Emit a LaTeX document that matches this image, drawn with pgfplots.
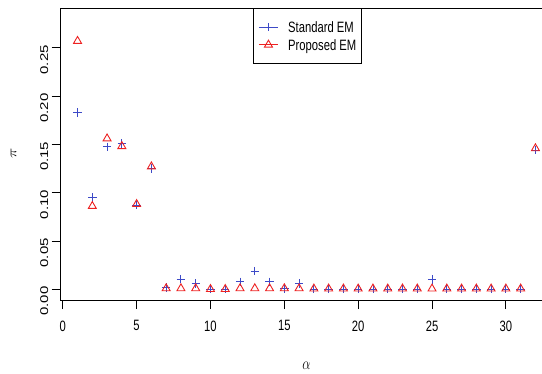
\documentclass[border=0pt]{standalone}
\usepackage{fontspec}
\setmainfont{Liberation Sans}
\usepackage{graphicx}
\usepackage{pgfplots}
\pgfplotsset{compat=1.18}
\usepackage{pgfplotstable}
\definecolor{emblue}{rgb}{0.24,0.29,0.78}
\definecolor{emred}{rgb}{0.93,0.13,0.13}
\newcommand\sqh[1]{\scalebox{0.75}[1]{#1}}
\newcommand\sqv[1]{\scalebox{1}[0.75]{#1}}
\newcommand\bigf{\fontsize{15}{17}\selectfont}
\pgfplotstableread{
x std prop
1 0.183 0.257
2 0.095 0.086
3 0.1475 0.156
4 0.151 0.148
5 0.087 0.088
6 0.125 0.127
7 0.0018 0.0008
8 0.0104 0.0008
9 0.0059 0.0008
10 0.0000 0.0000
11 0.0000 0.0000
12 0.0076 0.0008
13 0.0187 0.0008
14 0.0076 0.0008
15 0.0005 0.0008
16 0.0060 0.0008
17 0.0000 0.0005
18 0.0000 0.0005
19 0.0000 0.0005
20 0.0000 0.0005
21 0.0000 0.0005
22 0.0000 0.0005
23 0.0000 0.0005
24 0.0000 0.0005
25 0.0100 0.0005
26 0.0000 0.0005
27 0.0000 0.0005
28 0.0000 0.0005
29 0.0000 0.0005
30 0.0000 0.0005
31 0.0000 0.0005
32 0.144 0.1458
}\emdata
\begin{document}
\begin{tikzpicture}
\useasboundingbox (-60.7pt,-73pt) rectangle (481.3pt,300pt);
\begin{axis}[
  at={(0pt,0pt)}, anchor=south west,
  scale only axis,
  width=483pt, height=292pt,
  xmin=-0.14, xmax=32.56,
  ymin=-0.0112, ymax=0.2912,
  xtick={0,5,10,15,20,25,30},
  ytick={0,0.05,0.10,0.15,0.20,0.25},
  xtick pos=bottom, ytick pos=left,
  tick align=outside,
  major tick length=9pt,
  axis line style={line width=0.8pt},
  every tick/.style={black, line width=0.8pt},
  /pgf/number format/assume math mode=true,
  tick label style={font=\bigf},
  xticklabel={\sqh{\pgfmathprintnumber{\tick}}},
  xticklabel style={anchor=north, yshift=-8pt},
  yticklabel={\sqv{\pgfmathprintnumber[fixed,fixed zerofill,precision=2]{\tick}}},
  yticklabel style={rotate=90, anchor=south, xshift=-12pt},
  xlabel={\fontsize{17}{19}\selectfont\sqh{$\alpha$}},
  ylabel={\fontsize{17}{19}\selectfont\sqv{$\pi$}},
  every axis x label/.style={at={(axis description cs:0.509,0)}, anchor=center, yshift=-66pt},
  every axis y label/.style={at={(axis description cs:0,0.503)}, xshift=-47pt, anchor=center, rotate=90},
  legend style={at={(axis description cs:0.3984,1)}, anchor=north west,
    draw=black, line width=0.8pt, font=\bigf,
    nodes={inner sep=0pt, text height=10.7pt, text depth=0pt},
    row sep=6.8pt, column sep=9.7pt, inner xsep=5pt, inner ysep=13.5pt},
  legend cell align=left,
  legend image code/.code={
    \draw[#1] (0pt,0pt) -- (19pt,0pt);
    \draw[#1] plot coordinates {(9.5pt,0pt)};
  },
]
\addplot[only marks, emblue, draw=emblue, mark=+, mark size=4.2pt, line width=0.9pt] table[x=x,y=std]{\emdata};
\addlegendentry{\sqh{\bigf Standard EM}\hspace{2.7pt}}
\addplot[only marks, emred, draw=emred, mark=triangle, mark size=4.6pt, line width=0.9pt] table[x=x,y=prop]{\emdata};
\addlegendentry{\sqh{\bigf Proposed EM}\hspace{2.7pt}}
\end{axis}
\end{tikzpicture}
\end{document}
